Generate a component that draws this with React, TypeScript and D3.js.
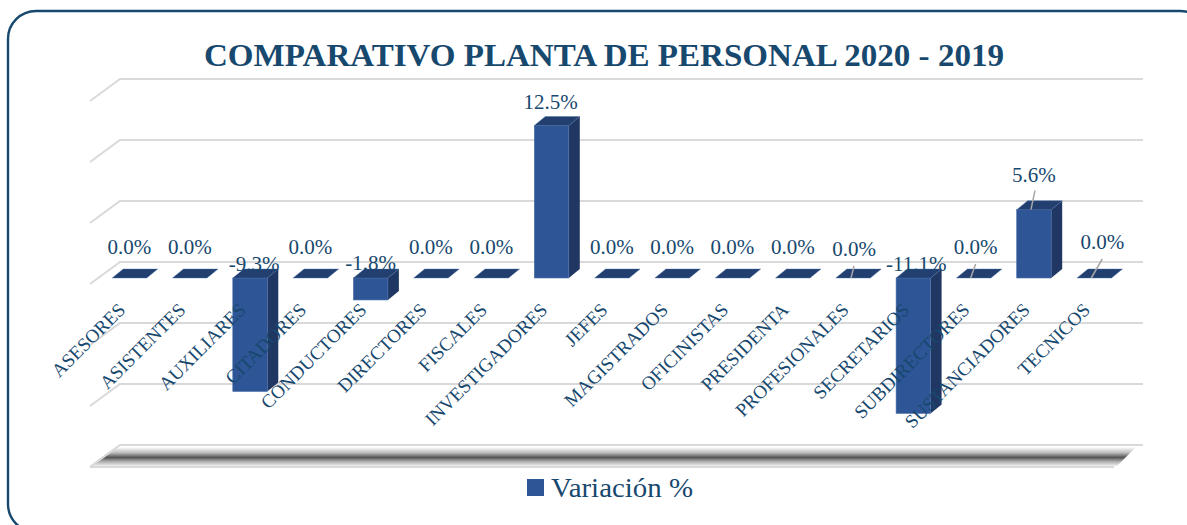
import { useEffect, useRef } from "react";
import * as d3 from "d3";

const categories = [
  "ASESORES", "ASISTENTES", "AUXILIARES", "CITADORES", "CONDUCTORES", "DIRECTORES",
  "FISCALES", "INVESTIGADORES", "JEFES", "MAGISTRADOS", "OFICINISTAS", "PRESIDENTA",
  "PROFESIONALES", "SECRETARIOS", "SUBDIRECTORES", "SUSTANCIADORES", "TECNICOS",
];
const values = [0, 0, -9.3, 0, -1.8, 0, 0, 12.5, 0, 0, 0, 0, 0, -11.1, 0, 5.6, 0];
const gridTicks = [-15, -10, -5, 0, 5, 10, 15];
const seriesName = "Variación %";
const chartTitle = "COMPARATIVO PLANTA DE PERSONAL 2020 - 2019";

const width = 1187;
const height = 525;
const navy = "#17486e";
const face = "#2e5596";
const side = "#203764";
const serif = "'Liberation Serif', serif";

// the 3d box: how far the back wall sits from the front of the floor
const wallDx = 30;
const wallDy = 22;
const barDx = 11;
const barDy = 9;
const baseShift = 16; // front of bars sits this far below the wall's zero

// labels that were dragged by hand in the original: dx, dy
const labelNudge: Record<string, [number, number]> = {
  AUXILIARES: [4, 17],
  CONDUCTORES: [0, 16],
  INVESTIGADORES: [-1, 7],
  PROFESIONALES: [1, 2],
  SECRETARIOS: [3, 17],
  SUBDIRECTORES: [2, 0],
  SUSTANCIADORES: [0, -3.5],
  TECNICOS: [8, -5],
};
// leader lines for those that got one: foot dx, tip dx, tip dy
const leaders: Record<string, [number, number, number]> = {
  PROFESIONALES: [-2, 1, -12],
  SUBDIRECTORES: [-3, 2, -14],
  SUSTANCIADORES: [-3, 1, -19],
  TECNICOS: [-3, 8, -19],
};

const App = () => {
  const svgRef = useRef<SVGSVGElement>(null);

  useEffect(() => {
    const svg = d3.select(svgRef.current);
    svg.selectAll("*").remove();

    const x = d3.scaleBand<string>()
      .domain(categories)
      .range([99.3, 1124.4])
      .paddingInner(0.428)
      .paddingOuter(0.214);
    const y = d3.scaleLinear().domain([-15, 15]).range([445, 79]);

    const defs = svg.append("defs");
    const grad = defs.append("linearGradient").attr("id", "floorShade")
      .attr("x1", 0).attr("x2", 0).attr("y1", 0).attr("y2", 1);
    [[0, "#ffffff"], [0.3, "#bdbdbd"], [0.55, "#555555"], [0.75, "#a8a8a8"], [1, "#f0f0f0"]]
      .forEach(([o, c]) => grad.append("stop").attr("offset", o as number).attr("stop-color", c as string));

    // card
    svg.append("rect")
      .attr("x", 8).attr("y", 11)
      .attr("width", 1200).attr("height", 521)
      .attr("rx", 28)
      .attr("fill", "#fff")
      .attr("stroke", navy)
      .attr("stroke-width", 2.4);

    svg.append("text")
      .attr("x", 604).attr("y", 66)
      .attr("text-anchor", "middle")
      .attr("font-family", serif)
      .attr("font-weight", 700)
      .attr("font-size", 31)
      .attr("fill", navy)
      .attr("textLength", 800)
      .attr("lengthAdjust", "spacingAndGlyphs")
      .text(chartTitle);

    const left = 120;
    const right = 1143;

    // floor shadow under the chart
    svg.append("path")
      .attr("d", `M${left - 4},447 L${right - 7},447 L${right - 26},466 L${left - 30},466 Z`)
      .attr("fill", "url(#floorShade)");

    // gridlines with the short return along the side wall
    const gridLine = d3.line<[number, number]>();
    gridTicks.forEach((t) => {
      svg.append("path")
        .attr("d", gridLine([[left - wallDx, y(t) + wallDy], [left, y(t)], [right, y(t)]]))
        .attr("fill", "none")
        .attr("stroke", "#d9d9d9")
        .attr("stroke-width", 2);
    });
    svg.append("line")
      .attr("x1", left - wallDx).attr("x2", right - wallDx + 1)
      .attr("y1", y(-15) + wallDy).attr("y2", y(-15) + wallDy)
      .attr("stroke", "#d9d9d9").attr("stroke-width", 2);

    const zero = y(0) + baseShift;
    const h = (v: number) => y(0) - y(v);

    // bars
    categories.forEach((c, i) => {
      const v = values[i];
      const x0 = x(c)!;
      const bw = x.bandwidth();
      const top = zero - Math.max(h(v), 0);
      const bottom = zero - Math.min(h(v), 0);
      const g = svg.append("g");
      if (v !== 0) {
        g.append("path")
          .attr("d", `M${x0 + bw},${top} l${barDx},${-barDy} V${bottom - barDy} L${x0 + bw},${bottom} Z`)
          .attr("fill", side);
        g.append("rect")
          .attr("x", x0).attr("y", top)
          .attr("width", bw).attr("height", bottom - top)
          .attr("fill", face)
          .attr("stroke", "#4a6ea8").attr("stroke-width", 0.6);
      }
      g.append("path")
        .attr("d", `M${x0},${top} l${barDx},${-barDy} h${bw} l${-barDx},${barDy} Z`)
        .attr("fill", "#223f70")
        .attr("stroke", "#4a6ea8").attr("stroke-width", 0.4);
    });

    // value labels
    categories.forEach((c, i) => {
      const v = values[i];
      const cx = x(c)! + x.bandwidth() / 2;
      const [nx, ny] = labelNudge[c] ?? [0, 0];
      const top = zero - Math.max(h(v), 0);
      const leader = leaders[c];
      if (leader) {
        svg.append("line")
          .attr("x1", cx + leader[0]).attr("y1", top)
          .attr("x2", cx + leader[1]).attr("y2", top + leader[2])
          .attr("stroke", "#a6a6a6").attr("stroke-width", 1.5);
      }
      svg.append("text")
        .attr("x", cx + nx).attr("y", top - 24 + ny)
        .attr("text-anchor", "middle")
        .attr("font-family", serif)
        .attr("font-size", 21)
        .attr("fill", navy)
        .text(`${v.toFixed(1)}%`);
    });

    // rotated category labels, end anchored under each bar
    categories.forEach((c) => {
      const cx = x(c)! + x.bandwidth() / 2;
      svg.append("text")
        .attr("transform", `translate(${cx - 3},${zero + 33}) rotate(-45)`)
        .attr("text-anchor", "end")
        .attr("font-family", serif)
        .attr("font-size", 19)
        .attr("fill", navy)
        .text(c);
    });

    // legend
    svg.append("rect")
      .attr("x", 527).attr("y", 479).attr("width", 17).attr("height", 17)
      .attr("fill", face);
    svg.append("text")
      .attr("x", 551).attr("y", 497)
      .attr("font-family", serif)
      .attr("font-size", 27)
      .attr("fill", navy)
      .attr("textLength", 142)
      .attr("lengthAdjust", "spacingAndGlyphs")
      .text(seriesName);
  }, []);

  return (
    <svg
      ref={svgRef}
      width={width}
      height={height}
      style={{ position: "absolute", left: 0, top: 0 }}
    />
  );
};

export default App;
